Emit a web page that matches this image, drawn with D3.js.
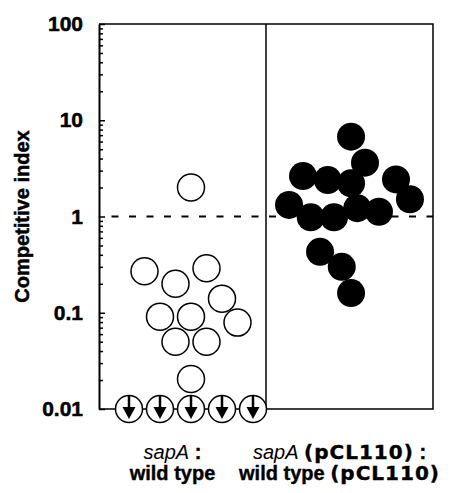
<!DOCTYPE html>
<html>
<head>
<meta charset="utf-8">
<script src="https://cdn.jsdelivr.net/npm/d3@7/dist/d3.min.js"></script>
<style>
  body { margin: 0; background: #fff; }
  text { font-family: "Liberation Sans", Arial, sans-serif; fill: #000; }
</style>
</head>
<body>
<script>
// groups along the x axis
var groups = ["sapA : wild type", "sapA (pCL110) : wild type (pCL110)"];

// y axis tick values and their labels
var majorTicks = [0.01, 0.1, 1, 10, 100];
var tickLabels = ["0.01", "0.1", "1", "10", "100"];

// sapA : wild type (open circles), dodge = swarm slot in half-diameters
var openValues = [2.0, 0.27, 0.20, 0.29, 0.14, 0.091, 0.091, 0.079, 0.050, 0.050, 0.0205];
var openDodge  = [0, -3, -1, 1, 2, -2, 0, 3, -1, 1, 0];

// below detection limit (plotted at 0.01 with arrow)
var belowValues = [0.01, 0.01, 0.01, 0.01, 0.01];
var belowDodge  = [-4, -2, 0, 2, 4];

// sapA (pCL110) : wild type (pCL110) (filled circles)
var filledValues = [6.75, 3.62, 2.63, 2.39, 2.21, 2.43, 1.51, 1.32, 0.98, 0.98, 1.22, 1.12, 0.43, 0.30, 0.16];
var filledDodge  = [0.1, 1.0, -3.0, -1.4, 0.1, 3.0, 3.9, -3.9, -2.5, -1.0, 0.5, 1.9, -1.9, -0.5, 0.1];

var width = 452,
    height = 493,
    plotLeft = 99,
    plotRight = 433,
    plotTop = 24,
    plotBottom = 409,
    r = 13.5,
    clusterShift = [8.5, 0];

var x = d3.scaleBand().domain([0, 1]).range([plotLeft, plotRight]),
    dodge = d3.scaleLinear().domain([0, 1]).range([0, 15.5]),
    y = d3.scaleLog().domain([0.01, 100]).range([plotBottom, plotTop]);

function cx(g, d) {
    return x(g) + x.bandwidth() / 2 + clusterShift[g] + dodge(d);
}

var svg = d3.select("body")
    .append("svg")
        .attr("width", width)
        .attr("height", height);

// frame and divider
svg.append("path")
    .attr("d", "M" + plotLeft + "," + plotTop + "H" + plotRight + "V" + plotBottom + "H" + plotLeft)
    .attr("fill", "none")
    .attr("stroke", "#000")
    .attr("stroke-width", 1.5);

svg.append("line")
    .attr("x1", x(1)).attr("x2", x(1))
    .attr("y1", plotTop).attr("y2", plotBottom)
    .attr("stroke", "#000")
    .attr("stroke-width", 1.5);

// reference line at 1
svg.append("line")
    .attr("x1", plotLeft + 2).attr("x2", plotRight)
    .attr("y1", y(1)).attr("y2", y(1))
    .attr("stroke", "#000")
    .attr("stroke-width", 2)
    .attr("stroke-dasharray", "7,10.5")
    .attr("stroke-dashoffset", 7);

// minor ticks
var minorTicks = y.ticks().filter(function(t) {
    return majorTicks.indexOf(t) < 0; });

svg.append("g")
    .attr("transform", "translate(" + plotLeft + ",0)")
    .call(d3.axisLeft(y)
        .tickValues(minorTicks)
        .tickSize(-4)
        .tickFormat(""))
    .call(function(g) { g.select(".domain").remove(); })
    .selectAll("line")
        .attr("stroke-width", 1.5);

// major ticks with labels
var yAxis = svg.append("g")
    .attr("transform", "translate(" + plotLeft + ",0)")
    .call(d3.axisLeft(y)
        .tickValues(majorTicks)
        .tickSize(-6)
        .tickSizeOuter(0)
        .tickPadding(16)
        .tickFormat(function(d, i) { return tickLabels[i]; }));

yAxis.select(".domain").attr("stroke-width", 2);
yAxis.selectAll("line").attr("stroke-width", 1.5);
yAxis.selectAll("text")
    .style("font-family", '"Liberation Sans", Arial, sans-serif')
    .style("font-size", "21px")
    .style("font-weight", "bold")
    .attr("stroke", "#000")
    .attr("stroke-width", 0.5);

// y title
svg.append("text")
    .attr("transform", "translate(29," + ((plotTop + plotBottom) / 2) + ") rotate(-90)")
    .attr("text-anchor", "middle")
    .style("font-size", "20px")
    .style("font-weight", "bold")
    .attr("stroke", "#000")
    .attr("stroke-width", 0.5)
    .text("Competitive index");

// filled circles
svg.append("g")
    .selectAll("circle")
    .data(filledValues)
    .enter()
    .append("circle")
    .attr("r", r + 0.5)
    .attr("cx", function(d, i) { return cx(1, filledDodge[i]); })
    .attr("cy", function(d) { return y(d); })
    .attr("fill", "#000");

// open circles
svg.append("g")
    .selectAll("circle")
    .data(openValues)
    .enter()
    .append("circle")
    .attr("r", r)
    .attr("cx", function(d, i) { return cx(0, openDodge[i]); })
    .attr("cy", function(d) { return y(d); })
    .attr("fill", "#fff")
    .attr("stroke", "#000")
    .attr("stroke-width", 1.5);

// below detection: open circle with down arrow
var below = svg.append("g")
    .selectAll("g")
    .data(belowValues)
    .enter()
    .append("g")
    .attr("transform", function(d, i) {
        return "translate(" + cx(0, belowDodge[i]) + "," + y(d) + ")"; });

below.append("circle")
    .attr("r", r)
    .attr("fill", "#fff")
    .attr("stroke", "#000")
    .attr("stroke-width", 1.5);

below.append("line")
    .attr("y1", -r).attr("y2", 0)
    .attr("stroke", "#000")
    .attr("stroke-width", 2.5);

below.append("path")
    .attr("d", "M-6.5,-2L6.5,-2L0,10Z")
    .attr("fill", "#000");

// group labels
var labelLines = [
    [[{t: "sapA", i: true}, {t: " :"}], [{t: "wild type"}]],
    [[{t: "sapA", i: true}, {t: " "}, {t: "(pCL110)", w: true}, {t: " :"}],
     [{t: "wild type "}, {t: "(pCL110)", w: true}]]
];

labelLines.forEach(function(lines, g) {
    lines.forEach(function(parts, k) {
        var t = svg.append("text")
            .attr("x", x(g) + x.bandwidth() / 2 - 10)
            .attr("y", 459 + k * 21)
            .attr("text-anchor", "middle")
            .style("font-size", "20px");
        parts.forEach(function(p) {
            t.append("tspan")
                .style("font-family", p.w ? '"DejaVu Sans", sans-serif' : null)
                .style("font-style", p.i ? "italic" : "normal")
                .style("font-weight", p.i ? "normal" : "bold")
                .style("letter-spacing", p.w ? "1px" : "0px")
                .attr("stroke", p.i ? null : "#000")
                .attr("stroke-width", p.i ? null : 0.4)
                .text(p.t);
        });
    });
});
</script>
</body>
</html>
